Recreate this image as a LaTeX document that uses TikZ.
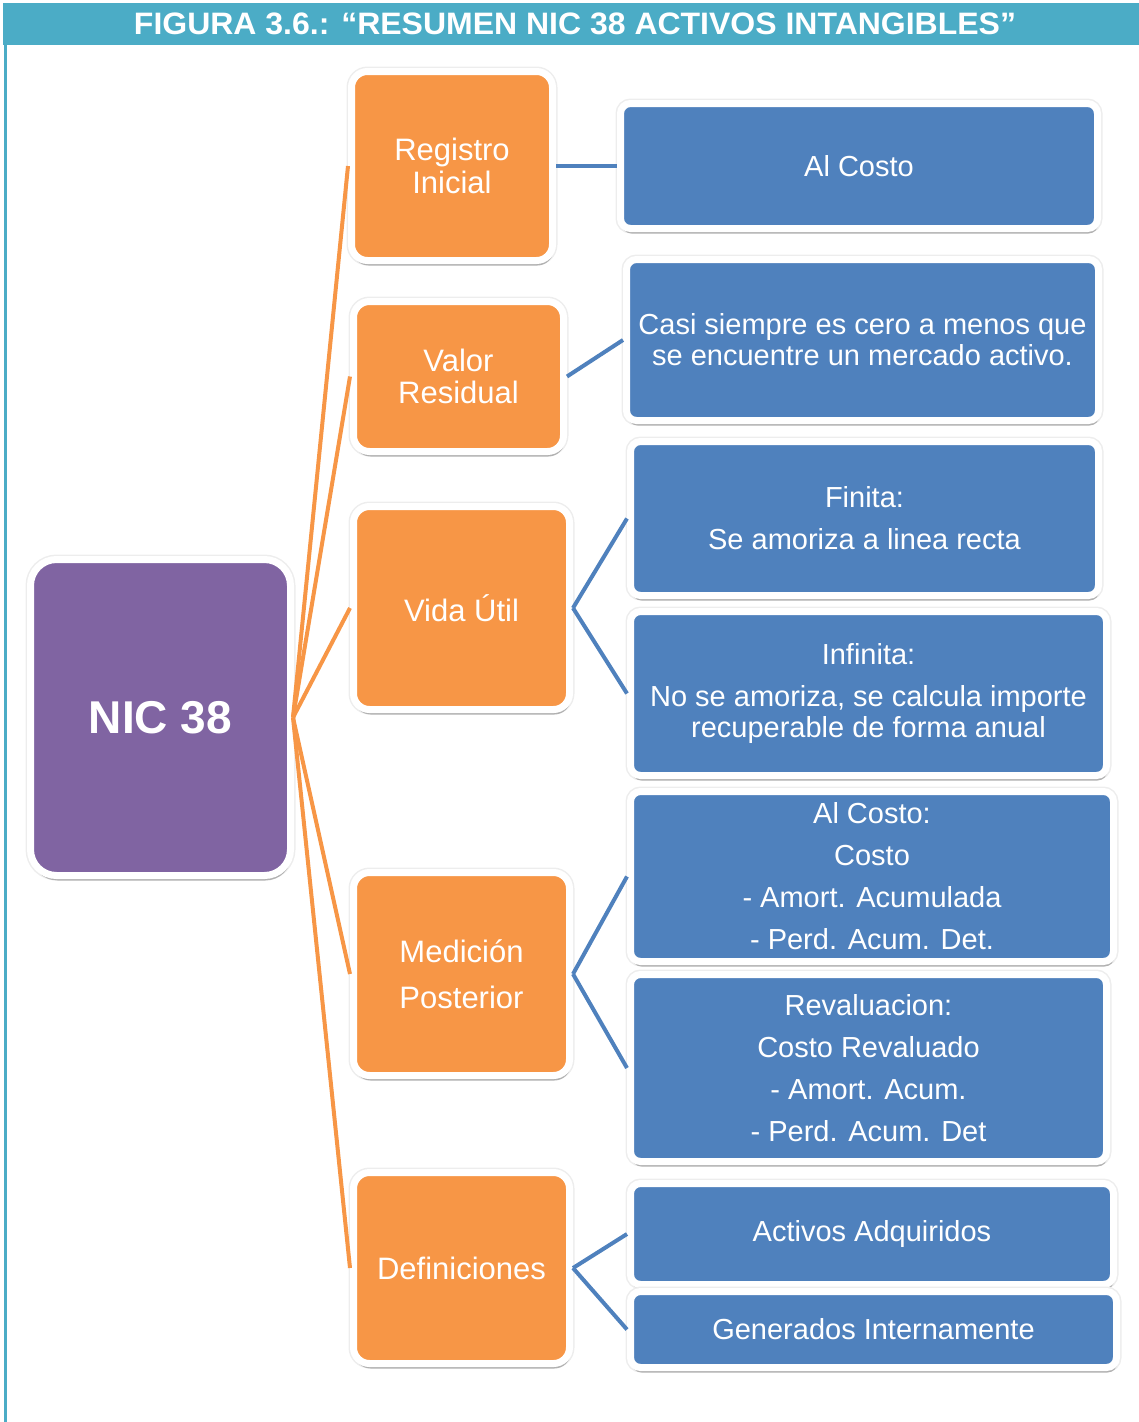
\documentclass[tikz,border=0pt]{standalone}
\usepackage{fontspec}
\setmainfont{Liberation Sans}
\usetikzlibrary{shadows}
\definecolor{cOrange}{HTML}{F79646}
\definecolor{cBlue}{HTML}{4F81BD}
\definecolor{cPurple}{HTML}{8064A2}
\definecolor{cTeal}{HTML}{4BACC6}
\begin{document}
\begin{tikzpicture}[x=1pt,y=-1pt,
  boxbase/.style={draw=white, line width=7pt, inner sep=0pt, align=center, text=white,
    preaction={draw=black!7, line width=10pt},
    drop shadow={shadow xshift=1pt, shadow yshift=-5pt, opacity=0.25, fill=black}},
  purplebox/.style={boxbase, fill=cPurple, rounded corners=26pt,
    font=\fontsize{46}{50}\selectfont\bfseries},
  orangebox/.style={boxbase, fill=cOrange, rounded corners=16pt,
    font=\fontsize{31}{33}\selectfont},
  bluebox/.style={boxbase, fill=cBlue, rounded corners=10pt,
    font=\fontsize{29}{42}\selectfont},
  tight/.style={font=\fontsize{29}{31}\selectfont},
  oline/.style={draw=cOrange, line width=4pt},
  bline/.style={draw=cBlue, line width=4pt},
  ]
\useasboundingbox (0,0) rectangle (1139,1422);
% frame
\fill[cTeal] (3,3) rectangle (1139,45);
\draw[cTeal, line width=3pt] (5,45) -- (5,1422);
\node[text=white, font=\fontsize{31}{33}\selectfont\bfseries] (title) at (575,24)
  {\resizebox{882pt}{\height}{FIGURA 3.6.: “RESUMEN NIC 38 ACTIVOS INTANGIBLES”}};
% main node
\node[purplebox, minimum width=260pt, minimum height=316pt] (nic) at (160.5,717.5) {NIC 38};
% orange nodes
\node[orangebox, minimum width=201pt, minimum height=189pt] (reg) at (452,166) {Registro\\Inicial};
\node[orangebox, minimum width=210pt, minimum height=150pt, font=\fontsize{31}{32}\selectfont] (val) at (458.5,376.5) {Valor\\Residual};
\node[orangebox, minimum width=216pt, minimum height=203pt] (vida) at (461.5,608) {Vida Útil};
\node[orangebox, minimum width=216pt, minimum height=203pt, font=\fontsize{31}{46}\selectfont] (med) at (461.5,974) {Medición\\Posterior};
\node[orangebox, minimum width=216pt, minimum height=191pt] (def) at (461.5,1268) {Definiciones};
% blue nodes
\node[bluebox, minimum width=477pt, minimum height=125pt] (c1) at (859,166) {Al Costo};
\node[bluebox, tight, minimum width=472pt, minimum height=161pt] (c2) at (862.5,340) {Casi siempre es cero a menos que\\se encuentre un mercado activo.};
\node[bluebox, minimum width=468pt, minimum height=154pt] (c3) at (864.5,518.5) {Finita:\\Se amoriza a linea recta};
\node[bluebox, tight, minimum width=476pt, minimum height=164pt] (c4) at (868.5,693.5) {Infinita:\\[11pt]No se amoriza, se calcula importe\\recuperable de forma anual};
\node[bluebox, minimum width=483pt, minimum height=170pt] (c5) at (872,876.5) {Al Costo:\\Costo\\- Amort. Acumulada\\- Perd. Acum. Det.};
\node[bluebox, minimum width=476pt, minimum height=187pt] (c6) at (868.5,1068) {Revaluacion:\\Costo Revaluado\\- Amort. Acum.\\- Perd. Acum. Det};
\node[bluebox, minimum width=483pt, minimum height=101pt] (c7) at (872,1234) {Activos Adquiridos};
\node[bluebox, minimum width=486pt, minimum height=76pt] (c8) at (873.5,1329.5) {Generados Internamente};
% orange connectors
\coordinate (hub) at ([xshift=-1pt]nic.east);
\draw[oline] (hub) -- (reg.west);
\draw[oline] (hub) -- (val.west);
\draw[oline] (hub) -- (vida.west);
\draw[oline] (hub) -- (med.west);
\draw[oline] (hub) -- (def.west);
% blue connectors
\draw[bline] (reg.east) -- (c1.west);
\draw[bline] (val.east) -- (c2.west);
\draw[bline] (vida.east) -- (c3.west);
\draw[bline] (vida.east) -- (c4.west);
\draw[bline] (med.east) -- (c5.west);
\draw[bline] (med.east) -- (c6.west);
\draw[bline] (def.east) -- (c7.west);
\draw[bline] (def.east) -- (c8.west);
\end{tikzpicture}
\end{document}
